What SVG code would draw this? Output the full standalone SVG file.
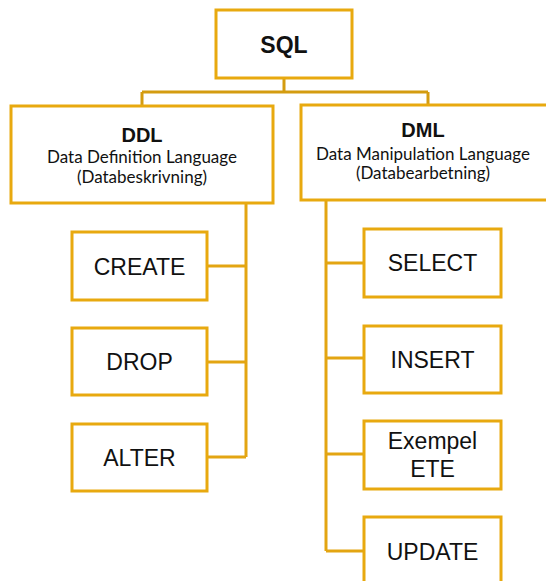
<svg xmlns="http://www.w3.org/2000/svg" width="546" height="581" viewBox="0 0 546 581">
<style>
.box{fill:#fff;stroke:#E8A90F;stroke-width:3}
.con{fill:none;stroke:#E3A512;stroke-width:3}
.top{stroke:#D49C10}
.t{font-family:"Liberation Sans",Arial,sans-serif;font-size:23px;fill:#111;text-anchor:middle}
.b{font-family:"Liberation Sans",Arial,sans-serif;font-weight:bold;fill:#111;text-anchor:middle}
.s{font-family:Lato,"Open Sans",sans-serif;font-size:17px;fill:#111;text-anchor:middle}
</style>
<rect width="546" height="581" fill="#fff"/>
<g id="connectors">
<path class="con top" d="M284,79 V92 M142,92 H428 M142,92 V106 M428,92 V105"/>
<path class="con" d="M246,203 V457 M207,266 H246 M207,362 H246 M207,457 H246"/>
<path class="con" d="M326,200 V551 M326,263 H364 M326,358 H364 M326,454 H364 M326,551 H364"/>
</g>
<g id="sql"><rect class="box" x="216" y="10" width="136" height="68"/><text class="b" x="284" y="53" font-size="23">SQL</text></g>
<g id="ddl"><rect class="box" x="11" y="106" width="262" height="97"/>
<text class="b" x="142" y="142" font-size="20">DDL</text>
<text class="s" x="142" y="163">Data Definition Language</text>
<text class="s" x="142" y="183">(Databeskrivning)</text></g>
<g id="dml"><rect class="box" x="301" y="105" width="250" height="95"/>
<text class="b" x="423" y="137" font-size="20">DML</text>
<text class="s" x="423" y="160">Data Manipulation Language</text>
<text class="s" x="423" y="179">(Databearbetning)</text></g>
<g id="create"><rect class="box" x="72" y="232" width="135" height="68"/><text class="t" x="139.5" y="275">CREATE</text></g>
<g id="drop"><rect class="box" x="72" y="328" width="135" height="67"/><text class="t" x="139.5" y="370">DROP</text></g>
<g id="alter"><rect class="box" x="72" y="424" width="135" height="67"/><text class="t" x="139.5" y="466">ALTER</text></g>
<g id="select"><rect class="box" x="364" y="229" width="137" height="68"/><text class="t" x="432.5" y="271">SELECT</text></g>
<g id="insert"><rect class="box" x="364" y="326" width="137" height="67"/><text class="t" x="432.5" y="368">INSERT</text></g>
<g id="exempel"><rect class="box" x="364" y="421" width="137" height="68"/><text class="t" x="432.5" y="449">Exempel</text><text class="t" x="432.5" y="477">ETE</text></g>
<g id="update"><rect class="box" x="364" y="517" width="137" height="68"/><text class="t" x="432.5" y="560">UPDATE</text></g>
</svg>
